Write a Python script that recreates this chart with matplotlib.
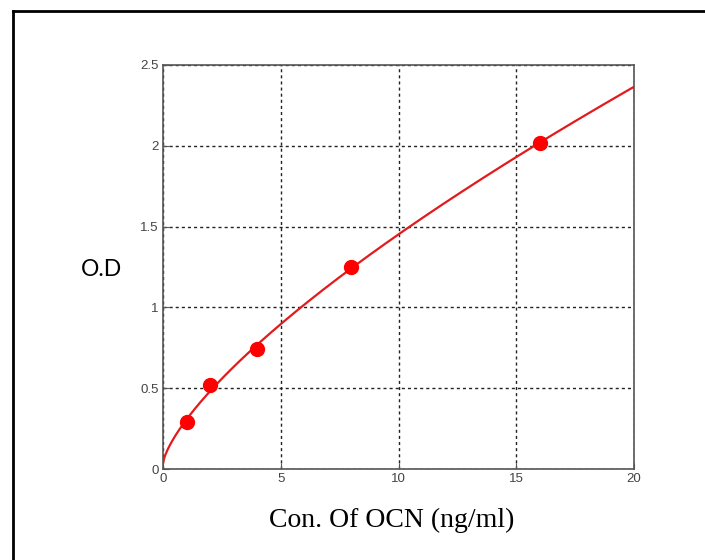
import numpy as np
import matplotlib
matplotlib.use("Agg")
import matplotlib.pyplot as plt
from matplotlib.lines import Line2D

# Standard concentrations (ng/ml) and measured optical density
conc = np.array([1, 2, 4, 8, 16])
od = np.array([0.29, 0.52, 0.74, 1.25, 2.02])

x_ticks = [0, 5, 10, 15, 20]
y_ticks = [0, 0.5, 1, 1.5, 2, 2.5]
x_tick_labels = ["0", "5", "10", "15", "20"]
y_tick_labels = ["0", "0.5", "1", "1.5", "2", "2.5"]

# Fit a power-law standard curve: od = d + a * conc**c
best = None
for c in np.linspace(0.3, 1.2, 901):
    A = np.column_stack([conc ** c, np.ones_like(conc, dtype=float)])
    coef, res, *_ = np.linalg.lstsq(A, od, rcond=None)
    err = np.sum((A @ coef - od) ** 2)
    if best is None or err < best[0]:
        best = (err, c, coef)
_, c_fit, (a_fit, d_fit) = best
xs = np.linspace(0, 20, 400)
ys = d_fit + a_fit * xs ** c_fit

fig = plt.figure(figsize=(7.05, 5.6), dpi=100)
ax = fig.add_axes([163 / 705, 1 - 469 / 560, 471 / 705, 404 / 560])

ax.plot(xs, ys, color="#e31a1c", lw=1.6, zorder=3)
ax.plot(conc, od, "o", color="#ff0000", markersize=10, zorder=4)

ax.set_xlim(0, 20)
ax.set_ylim(0, 2.5)
ax.set_xticks(x_ticks)
ax.set_xticklabels(x_tick_labels)
ax.set_yticks(y_ticks)
ax.set_yticklabels(y_tick_labels)
ax.tick_params(direction="in", length=4, width=0.8, colors="#555555",
               labelsize=9.5, pad=3)
for lab in ax.get_xticklabels() + ax.get_yticklabels():
    lab.set_family(["Liberation Sans", "DejaVu Sans"])
    lab.set_color("#444444")

ax.grid(True, color="#222222", linestyle=(0, (2.2, 2.2)), linewidth=1.0)
ax.set_axisbelow(True)
for sp in ax.spines.values():
    sp.set_color("#555555")
    sp.set_linewidth(1.2)

fig.text(102 / 705, 1 - 269 / 560, "O.D", ha="center", va="center",
         fontsize=16.5, family=["Lato", "DejaVu Sans"], color="black")
fig.text(392 / 705, 1 - 520 / 560, "Con. Of OCN (ng/ml)", ha="center",
         va="center", fontsize=20, family=["Liberation Serif", "DejaVu Serif"],
         color="black")

# Frame lines along the left and top of the figure
fig.add_artist(Line2D([13 / 705, 13 / 705], [0, 1 - 11 / 560],
                      transform=fig.transFigure, color="black", lw=2))
fig.add_artist(Line2D([13 / 705, 1], [1 - 11 / 560, 1 - 11 / 560],
                      transform=fig.transFigure, color="black", lw=2))

fig.savefig("out.png", dpi=100, facecolor="white")
